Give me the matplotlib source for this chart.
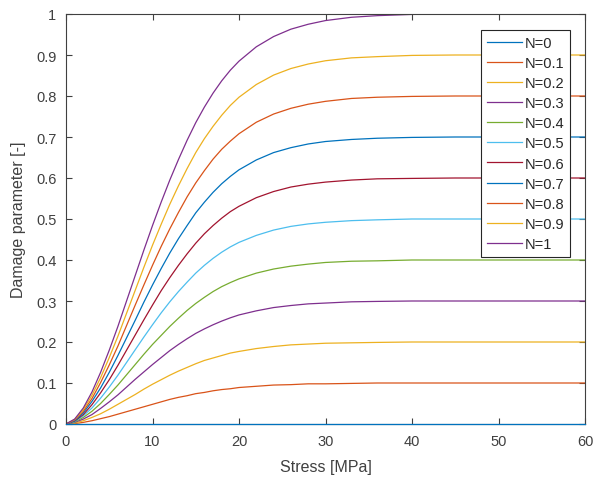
import matplotlib
matplotlib.use("Agg")
import matplotlib.pyplot as plt

plt.rcParams['font.family'] = ['Liberation Sans', 'DejaVu Sans']

stress = [0, 1, 2, 3, 4, 5, 6, 7, 8, 9, 10, 11, 12, 13, 14, 15, 16, 17, 18, 19,
          20, 22, 24, 26, 28, 30, 33, 36, 40, 45, 50, 60]

labels = ["N=0", "N=0.1", "N=0.2", "N=0.3", "N=0.4", "N=0.5", "N=0.6",
          "N=0.7", "N=0.8", "N=0.9", "N=1"]

d_n00 = [0.0] * 32
d_n01 = [0, 0.001, 0.004, 0.008, 0.013, 0.018, 0.024, 0.030, 0.036, 0.042, 0.048, 0.054, 0.060, 0.065, 0.069, 0.074,
         0.077, 0.081, 0.084, 0.086, 0.089, 0.092, 0.095, 0.096, 0.098, 0.098, 0.099, 0.100, 0.100, 0.100, 0.100, 0.100]
d_n02 = [0, 0.002, 0.008, 0.016, 0.025, 0.036, 0.048, 0.060, 0.072, 0.085, 0.097, 0.108, 0.119, 0.129, 0.138, 0.147,
         0.155, 0.161, 0.167, 0.173, 0.177, 0.184, 0.189, 0.193, 0.195, 0.197, 0.198, 0.199, 0.200, 0.200, 0.200, 0.200]
d_n03 = [0, 0.004, 0.012, 0.023, 0.038, 0.054, 0.071, 0.090, 0.109, 0.127, 0.145, 0.162, 0.179, 0.194, 0.208, 0.221,
         0.232, 0.242, 0.251, 0.259, 0.266, 0.276, 0.284, 0.289, 0.293, 0.295, 0.298, 0.299, 0.300, 0.300, 0.300, 0.300]
d_n04 = [0, 0.005, 0.016, 0.031, 0.050, 0.072, 0.095, 0.120, 0.145, 0.170, 0.194, 0.216, 0.238, 0.258, 0.277, 0.294,
         0.309, 0.323, 0.335, 0.345, 0.354, 0.368, 0.378, 0.385, 0.390, 0.394, 0.397, 0.398, 0.400, 0.400, 0.400, 0.400]
d_n05 = [0, 0.006, 0.020, 0.039, 0.063, 0.090, 0.119, 0.150, 0.181, 0.212, 0.242, 0.271, 0.298, 0.323, 0.346, 0.368,
         0.387, 0.404, 0.419, 0.432, 0.443, 0.460, 0.473, 0.482, 0.488, 0.492, 0.496, 0.498, 0.500, 0.500, 0.500, 0.500]
d_n06 = [0, 0.007, 0.023, 0.047, 0.076, 0.108, 0.143, 0.180, 0.217, 0.254, 0.290, 0.325, 0.357, 0.387, 0.415, 0.441,
         0.464, 0.484, 0.502, 0.518, 0.531, 0.552, 0.567, 0.578, 0.585, 0.590, 0.595, 0.598, 0.599, 0.600, 0.600, 0.600]
d_n07 = [0, 0.008, 0.027, 0.055, 0.088, 0.126, 0.167, 0.210, 0.253, 0.297, 0.339, 0.379, 0.417, 0.452, 0.484, 0.515,
         0.541, 0.565, 0.586, 0.604, 0.620, 0.644, 0.662, 0.674, 0.683, 0.689, 0.694, 0.697, 0.699, 0.700, 0.700, 0.700]
d_n08 = [0, 0.010, 0.031, 0.062, 0.101, 0.144, 0.190, 0.240, 0.290, 0.339, 0.387, 0.433, 0.476, 0.516, 0.554, 0.588,
         0.618, 0.646, 0.670, 0.690, 0.708, 0.736, 0.756, 0.770, 0.780, 0.787, 0.794, 0.797, 0.799, 0.800, 0.800, 0.800]
d_n09 = [0, 0.011, 0.035, 0.070, 0.113, 0.162, 0.214, 0.270, 0.326, 0.382, 0.436, 0.487, 0.536, 0.581, 0.623, 0.662,
         0.696, 0.726, 0.753, 0.777, 0.797, 0.828, 0.851, 0.867, 0.878, 0.886, 0.893, 0.896, 0.899, 0.900, 0.900, 0.900]
d_n10 = [0, 0.012, 0.039, 0.078, 0.126, 0.180, 0.238, 0.300, 0.362, 0.424, 0.484, 0.541, 0.595, 0.645, 0.692, 0.735,
         0.773, 0.807, 0.837, 0.863, 0.885, 0.920, 0.945, 0.963, 0.975, 0.984, 0.992, 0.996, 0.999, 1.000, 1.000, 1.000]

series = [d_n00, d_n01, d_n02, d_n03, d_n04, d_n05, d_n06, d_n07, d_n08, d_n09, d_n10]

matlab_colors = ["#0072BD", "#D95319", "#EDB120", "#7E2F8E", "#77AC30", "#4DBEEE", "#A2142F"]

xticks = [0, 10, 20, 30, 40, 50, 60]
yticks = [0, 0.1, 0.2, 0.3, 0.4, 0.5, 0.6, 0.7, 0.8, 0.9, 1]
yticklabels = ["0", "0.1", "0.2", "0.3", "0.4", "0.5", "0.6", "0.7", "0.8", "0.9", "1"]

fig = plt.figure(figsize=(5.94, 4.81), dpi=100)
ax = fig.add_axes([66 / 594, 56 / 481, 519 / 594, 410 / 481])

for i, (vals, lab) in enumerate(zip(series, labels)):
    ax.plot(stress, vals, color=matlab_colors[i % 7], lw=0.9, label=lab,
            zorder=3 if i == 0 else 2, clip_on=(i != 0))

ax.set_xlim(0, 60)
ax.set_ylim(0, 1)
ax.set_xticks(xticks)
ax.set_yticks(yticks)
ax.set_yticklabels(yticklabels)

axis_col = "#404040"
for sp in ax.spines.values():
    sp.set_color(axis_col)
    sp.set_linewidth(0.8)
ax.tick_params(direction="in", top=True, right=True, length=4, width=0.8,
               colors=axis_col, labelsize=10.5, labelcolor=axis_col, pad=7)

ax.set_xlabel("Stress [MPa]", fontsize=11.5, color=axis_col, labelpad=8)
ax.set_ylabel("Damage parameter [-]", fontsize=11.5, color=axis_col, labelpad=7)

leg = ax.legend(loc="upper right", bbox_to_anchor=(0.971, 0.961), fontsize=10.5,
                frameon=True, fancybox=False, framealpha=1, edgecolor="#262626",
                labelspacing=0.42, handlelength=2.4, handletextpad=0.2,
                borderpad=0.4, borderaxespad=0)
leg.get_frame().set_linewidth(0.8)
for t in leg.get_texts():
    t.set_color("#262626")

fig.savefig("out.png", dpi=100)
